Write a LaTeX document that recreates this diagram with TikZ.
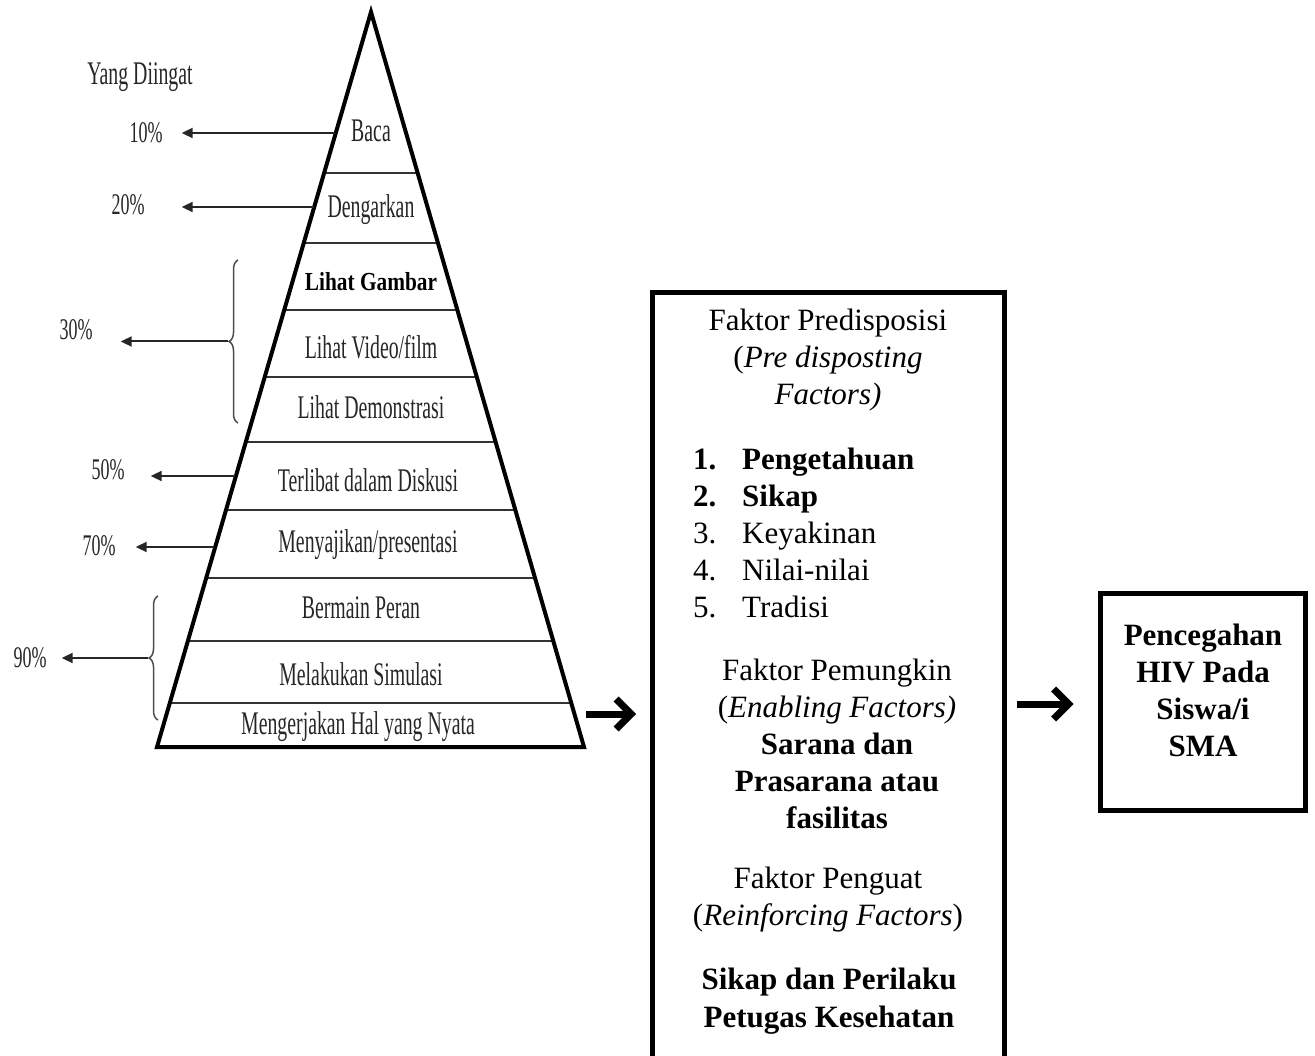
\documentclass[tikz,border=0pt]{standalone}
\usepackage{fontspec}
\setmainfont{Liberation Serif}
\usepackage{graphicx}
\usetikzlibrary{arrows.meta,decorations.pathreplacing}

\newcommand{\narrow}[2][0.6]{\scalebox{#1}[1]{#2}}

\tikzset{
  lvl/.style={font=\fontsize{33}{38}\selectfont, inner sep=0pt, text=black!85},
  pct/.style={font=\fontsize{30}{34}\selectfont, inner sep=0pt, text=black!85},
  leftarr/.style={line width=2pt, black!85, -{Triangle[length=11pt,width=10pt]}},
  bigarr/.style={line width=7pt, -{Straight Barb[length=15pt,width=30pt]}},
  frame/.style={draw, line width=5pt, inner sep=0pt},
  txt/.style={font=\fontsize{31}{37}\selectfont, align=center, inner sep=0pt},
  brc/.style={decorate, decoration={brace, amplitude=9pt}, gray!60!black, line width=1.5pt},
}

\begin{document}
\begin{tikzpicture}[x=1pt, y=-1pt]
    \useasboundingbox (0,0) rectangle (1315,1056);
    \clip (0,0) rectangle (1315,1056);

    % pyramid
    \coordinate (apex) at (371,12);
    \coordinate (baseL) at (157,747);
    \coordinate (baseR) at (584,747);
    \begin{scope}
        \clip (apex) -- (baseL) -- (baseR) -- cycle;
        \foreach \y in {173,243,310,377,442,510,578,641,703}
            \draw[line width=2.5pt, black!80] (150,\y) -- (600,\y);
    \end{scope}
    \draw[line width=4pt] (apex) -- (baseL) -- (baseR) -- cycle;

    \node[lvl] (baca)  at (371,131) {\narrow{Baca}};
    \node[lvl] (dengar) at (371,210) {\narrow{Dengarkan}};
    \node[lvl, font=\fontsize{26}{30}\selectfont\bfseries, text=black] (gambar) at (371,282) {\narrow[0.82]{Lihat Gambar}};
    \node[lvl] (video) at (371,347) {\narrow{Lihat Video/film}};
    \node[lvl] (demo)  at (371,407) {\narrow{Lihat Demonstrasi}};
    \node[lvl] (diskusi) at (368,480) {\narrow{Terlibat dalam Diskusi}};
    \node[lvl] (saji)  at (368,545) {\narrow{Menyajikan/presentasi}};
    \node[lvl] (peran) at (361,608) {\narrow{Bermain Peran}};
    \node[lvl] (simul) at (361,674) {\narrow{Melakukan Simulasi}};
    \node[lvl] (nyata) at (358,727) {\narrow{Mengerjakan Hal yang Nyata}};

    % what is remembered
    \node[lvl] (ingat) at (140,77) {\narrow{Yang Diingat}};
    \node[pct] (p10) at (146,133) {\narrow{10\%}};
    \node[pct] (p20) at (128,205) {\narrow{20\%}};
    \node[pct] (p30) at (76,330)  {\narrow{30\%}};
    \node[pct] (p50) at (108,470) {\narrow{50\%}};
    \node[pct] (p70) at (99,546)  {\narrow{70\%}};
    \node[pct] (p90) at (30,658)  {\narrow{90\%}};

    \coordinate (e10) at (335,133);
    \coordinate (e20) at (314,207);
    \coordinate (e50) at (235,476);
    \coordinate (e70) at (214,547);

    \draw[brc] (238,423) -- (238,260) coordinate[midway, xshift=-10pt] (b30);
    \draw[brc] (158,720) -- (158,596) coordinate[midway, xshift=-10pt] (b90);

    \draw[leftarr, shorten >=19pt] (e10) -- (e10 -| p10.east);
    \draw[leftarr, shorten >=37pt] (e20) -- (e20 -| p20.east);
    \draw[leftarr, shorten >=28pt] (b30) -- (b30 -| p30.east);
    \draw[leftarr, shorten >=26pt] (e50) -- (e50 -| p50.east);
    \draw[leftarr, shorten >=20pt] (e70) -- (e70 -| p70.east);
    \draw[leftarr, shorten >=15pt] (b90) -- (b90 -| p90.east);

    % factor box
    \node[frame, minimum width=352pt, minimum height=800pt, anchor=north] (faktor) at (828.5,290) {};

    \node[txt] (pre) at (828,360) {Faktor Predisposisi\\(\textit{Pre disposting}\\\textit{Factors)}};
    \node[txt, align=left, anchor=west] (daftar) at (693,533) {%
        \makebox[49pt][l]{\bfseries 1.}\textbf{Pengetahuan}\\
        \makebox[49pt][l]{\bfseries 2.}\textbf{Sikap}\\
        \makebox[49pt][l]{3.}Keyakinan\\
        \makebox[49pt][l]{4.}Nilai-nilai\\
        \makebox[49pt][l]{5.}Tradisi};
    \node[txt] (pemungkin) at (837,744) {Faktor Pemungkin\\(\textit{Enabling Factors)}\\\textbf{Sarana dan}\\\textbf{Prasarana atau}\\\textbf{fasilitas}};
    \node[txt] (penguat) at (828,900) {Faktor Penguat\\(\textit{Reinforcing Factors})};
    \node[txt, font=\fontsize{31}{38}\selectfont\bfseries] (petugas) at (829,1001) {Sikap dan Perilaku\\Petugas Kesehatan};

    % result box
    \node[frame, minimum width=205pt, minimum height=217pt] (hasil) at (1202.5,701.5) {};
    \node[txt, font=\fontsize{31}{37}\selectfont\bfseries] (hasiltxt) at (1203,690) {Pencegahan\\HIV Pada\\Siswa/i\\SMA};

    \coordinate (pyrout) at (586,714);
    \draw[bigarr, shorten >=14pt] (pyrout) -- (pyrout -| faktor.west);
    \draw[bigarr, shorten <=10pt, shorten >=24pt] (faktor.east |- 0,704) -- (hasil.west |- 0,704);
\end{tikzpicture}
\end{document}
